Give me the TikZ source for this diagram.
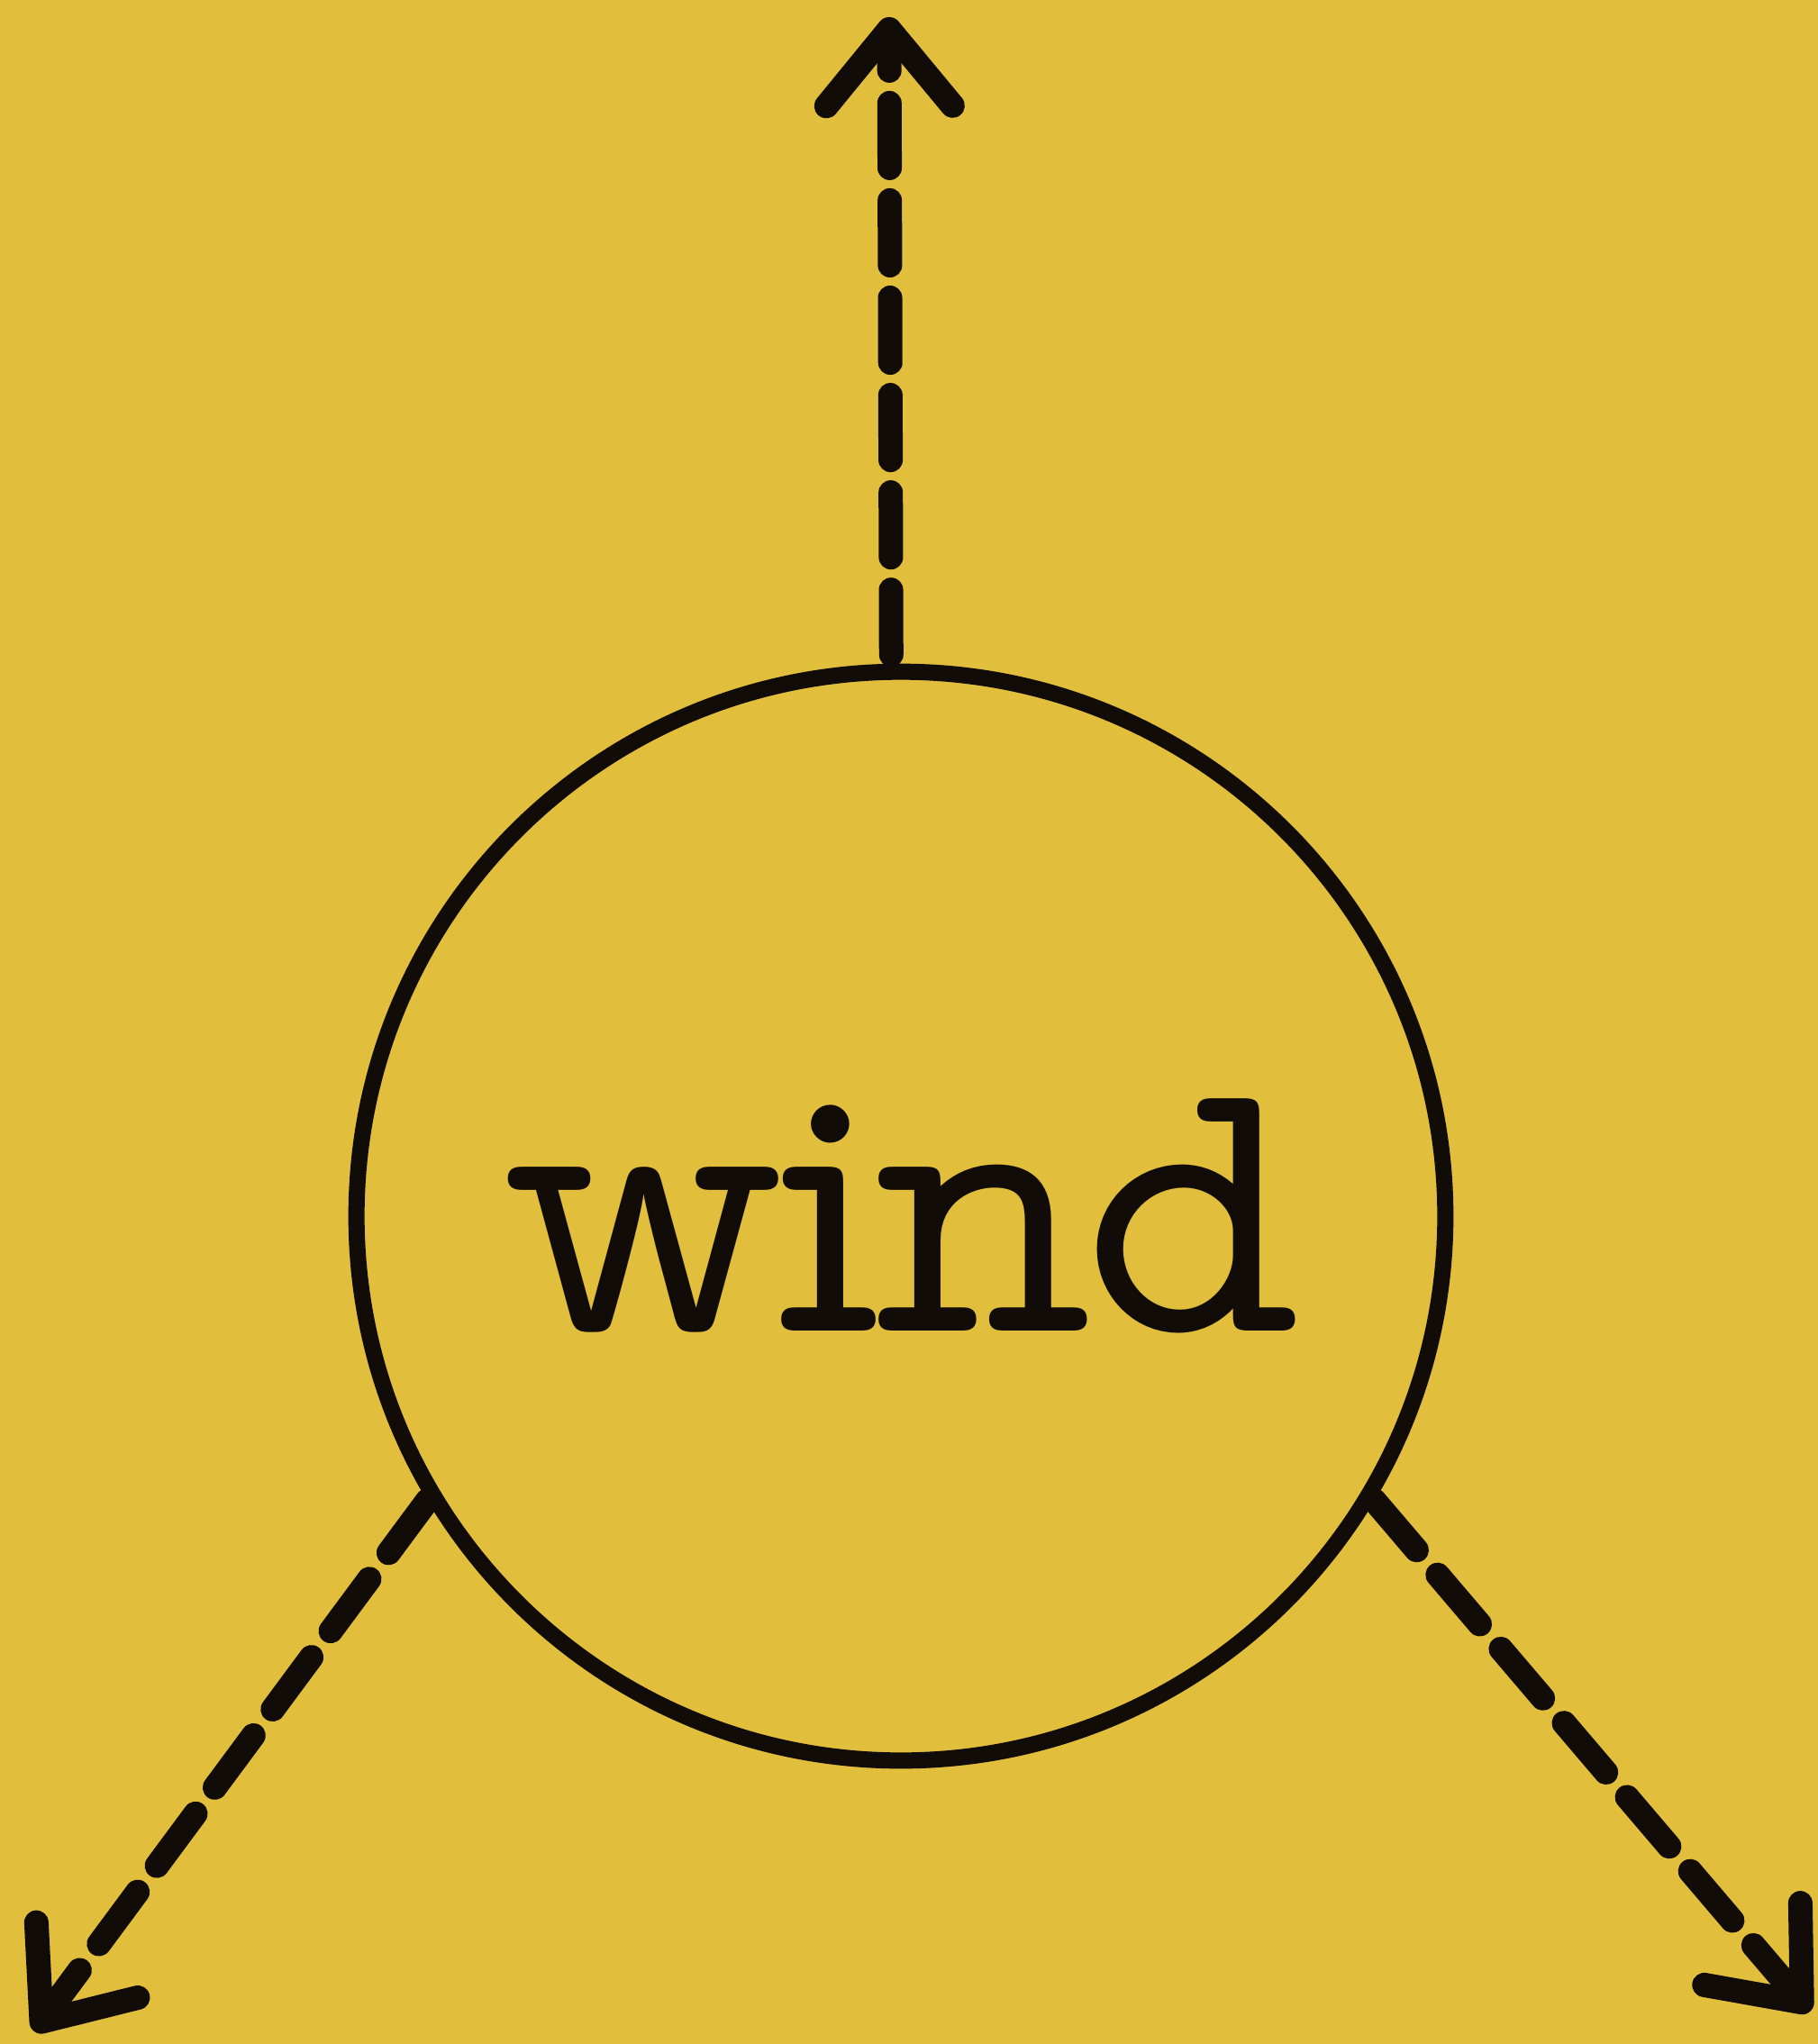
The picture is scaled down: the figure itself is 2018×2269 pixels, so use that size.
\documentclass[tikz,border=0pt]{standalone}
\usepackage{fontspec}
\newfontfamily\windfont[LetterSpace=-3.5]{Latin Modern Mono Prop}
\usetikzlibrary{arrows.meta}
\definecolor{mustard}{HTML}{E1BE3C}
\definecolor{ink}{HTML}{120C08}

\begin{document}
\begin{tikzpicture}[
    x=0.01cm, y=-0.01cm,
    bubble/.style={draw=ink, text=ink, circle, line width=0.18cm,
                   minimum size=12.08cm, inner sep=0pt,
                   font=\windfont\fontsize{120pt}{120pt}\selectfont},
    flow/.style={draw=ink, line width=0.27cm, line cap=round,
                 dash pattern=on 0.72cm off 0.36cm,
                 -{Straight Barb[length=0.85cm, width=1.4cm, line width=0.27cm, round]}},
  ]
  \fill[mustard] (0,0) rectangle (2018,2269);
  \useasboundingbox (0,0) rectangle (2018,2269);

  \node[bubble] (wind) at (1000,1350) {wind};
  \coordinate (up)    at (987,19);
  \coordinate (left)  at (38,2255);
  \coordinate (right) at (2009,2233);

  \draw[flow, shorten <=0.1cm] (wind.91) -- (up);
  \draw[flow] (wind.211) -- (left);
  \draw[flow] (wind.329) -- (right);
\end{tikzpicture}
\end{document}
